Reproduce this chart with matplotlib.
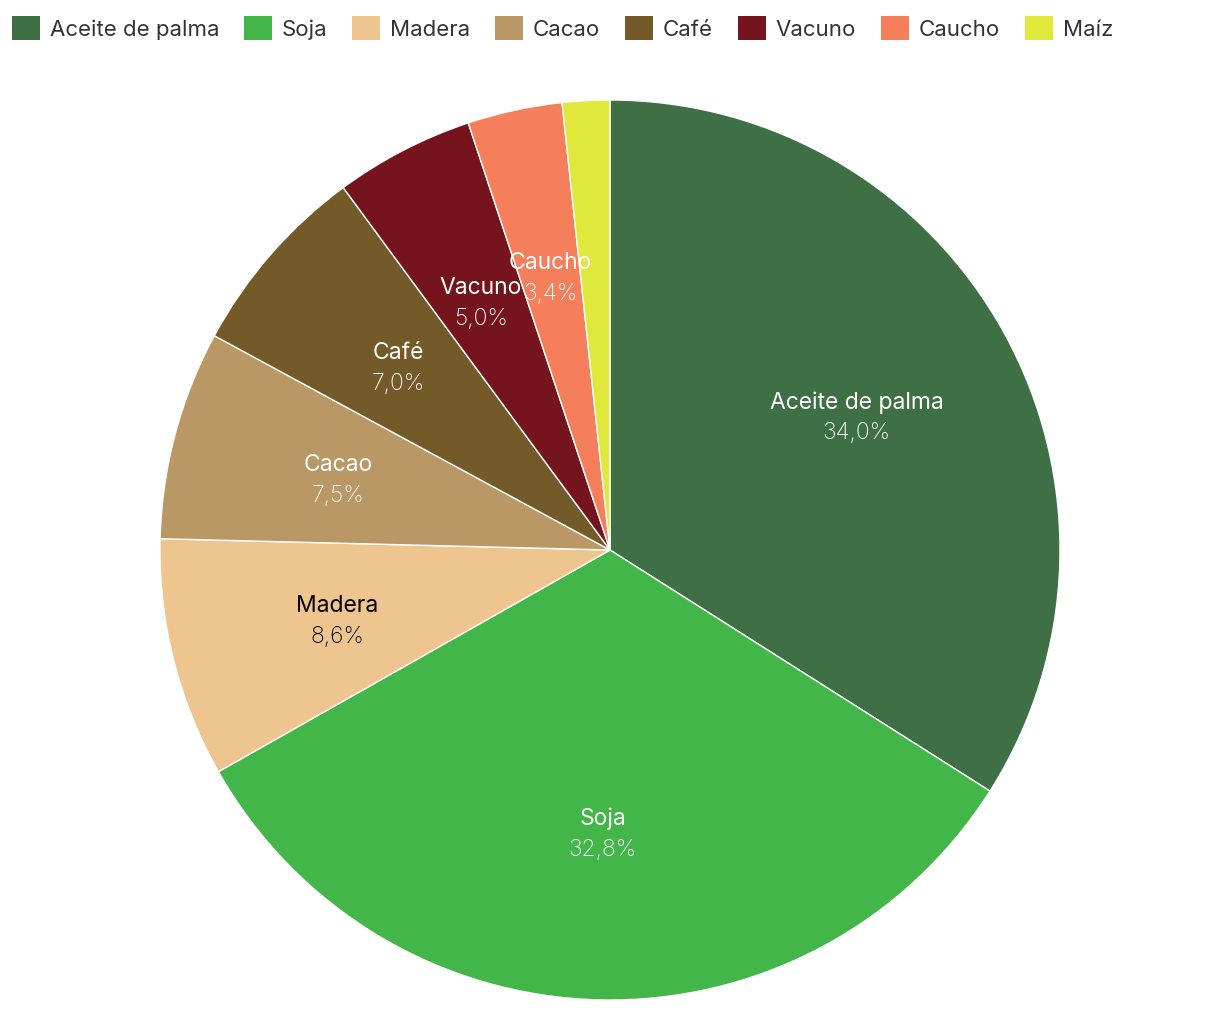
import numpy as np
import matplotlib.pyplot as plt
from matplotlib.patches import Patch

CATEGORIES = ['Aceite de palma', 'Soja', 'Madera', 'Cacao', 'Café', 'Vacuno', 'Caucho', 'Maíz']
SHARES = [34.0, 32.8, 8.6, 7.5, 7.0, 5.0, 3.4, 1.7]
COLORS = ['#3f6f45', '#42b649', '#eec48f', '#b99866', '#745a29', '#76141d', '#f47f5a', '#e0e83c']
LABEL_COLORS = ['white', 'white', 'black', 'white', 'white', 'white', 'white', 'white']
MIN_LABEL = 3.0

plt.rcParams['font.family'] = ['Inter', 'DejaVu Sans']


def fmt_pct(v):
    return f"{v:.1f}%".replace('.', ',')


def main():
    fig = plt.figure(figsize=(12.2, 10.1), dpi=100)
    W, H = 1220, 1010
    cx, cy, r = 610, 550, 450
    ax = fig.add_axes([(cx - r) / W, (H - cy - r) / H, 2 * r / W, 2 * r / H])

    wedges, _ = ax.pie(
        SHARES, colors=COLORS, startangle=90, counterclock=False,
        radius=1.0, wedgeprops=dict(edgecolor='white', linewidth=1.0),
    )
    ax.set_xlim(-1, 1)
    ax.set_ylim(-1, 1)
    ax.set_aspect('equal')
    ax.axis('off')

    for w, name, val, tc in zip(wedges, CATEGORIES, SHARES, LABEL_COLORS):
        if val < MIN_LABEL:
            continue
        mid = np.deg2rad((w.theta1 + w.theta2) / 2)
        x, y = 0.625 * np.cos(mid), 0.625 * np.sin(mid) - 0.007
        ax.text(x, y + 0.034, name, ha='center', va='center', fontsize=16.5, color=tc)
        ax.text(x, y - 0.034, fmt_pct(val), ha='center', va='center', fontsize=16.5,
                color=tc, fontweight='light')

    handles = [Patch(facecolor=c, edgecolor='none') for c in COLORS]
    fig.legend(handles, CATEGORIES, loc='upper left', bbox_to_anchor=(-0.002, 0.998),
               ncol=len(CATEGORIES), frameon=False, fontsize=16,
               handlelength=1.25, handleheight=1.25, handletextpad=0.45,
               columnspacing=1.12, borderaxespad=0.3, borderpad=0.35,
               labelcolor='#333333')

    fig.savefig('out.png', dpi=100)


if __name__ == "__main__":
    main()
